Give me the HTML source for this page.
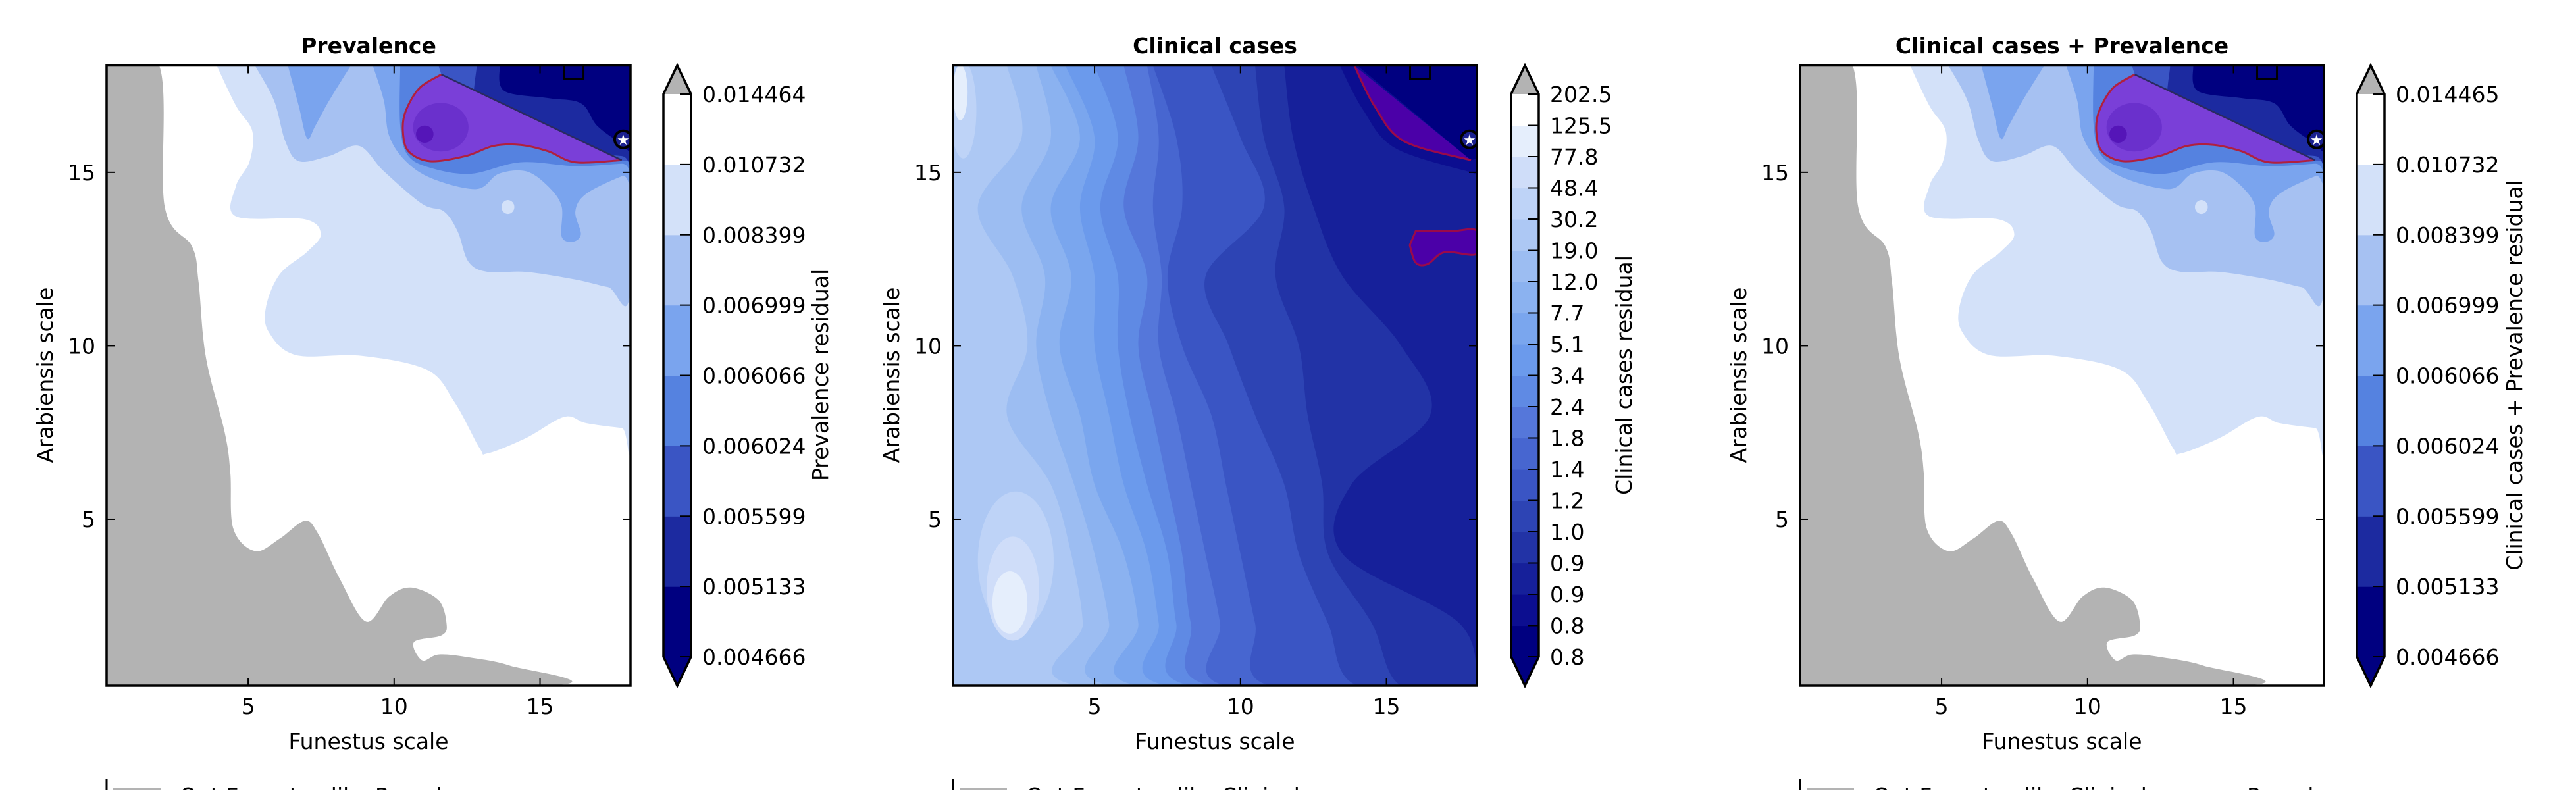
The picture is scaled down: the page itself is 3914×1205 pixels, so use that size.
<!DOCTYPE html>
<html><head><meta charset="utf-8">
<style>
html,body{margin:0;padding:0;background:#fff;}
body{width:3914px;height:1200px;overflow:hidden;}
svg text{font-family:"DejaVu Sans","Liberation Sans",sans-serif;}
</style></head>
<body>
<svg id="fig" xmlns="http://www.w3.org/2000/svg" width="3914" height="1200" viewBox="0 0 3914 1200"></svg>
<script>
// ---------- data ----------
const xRange = [0.15, 18.1];
const yRange = [0.2, 18.08];
const xTicks = [5, 10, 15];
const yTicks = [5, 10, 15];
const panelTitles = ["Prevalence", "Clinical cases", "Clinical cases + Prevalence"];
const cbarTitles = ["Prevalence residual", "Clinical cases residual", "Clinical cases + Prevalence residual"];
const legendLabels = ["Opt Funestus-like Prevalence", "Opt Funestus-like Clinical cases", "Opt Funestus-like Clinical cases + Prevalence"];
const prevTickLabels = ["0.014464","0.010732","0.008399","0.006999","0.006066","0.006024","0.005599","0.005133","0.004666"];
const combTickLabels = ["0.014465","0.010732","0.008399","0.006999","0.006066","0.006024","0.005599","0.005133","0.004666"];
const clinTickLabels = ["202.5","125.5","77.8","48.4","30.2","19.0","12.0","7.7","5.1","3.4","2.4","1.8","1.4","1.2","1.0","0.9","0.9","0.8","0.8"];
const prevColors = ["#000080","#1c2aa0","#3a55c4","#5582e0","#7aa4ee","#a6c1f2","#d3e1f9","#ffffff"];
const clinColors = ["#000080","#0c0e90","#16209a","#2233a6","#2d44b4","#3a55c4","#4766d0","#5577da","#5f8ae4","#6b9aec","#7aa6ee","#8bb2f0","#9cbdf2","#adc8f4","#bed3f7","#cfddf9","#e5eefc","#ffffff"];

// prevalence contour regions (data coords), drawn in order
const grayRegion = [[0.15,18.08],[1.95,18.08],[2.14,14.02],[3.08,12.86],[3.30,11.84],[3.55,9.67],[4.20,7.49],[4.39,6.33],[4.49,4.73],[5.24,4.08],[6.08,4.44],[6.93,4.95],[7.39,4.59],[8.14,3.28],[9.04,2.05],[9.83,2.77],[10.58,3.03],[11.52,2.67],[11.80,1.97],[11.62,1.65],[10.68,1.46],[10.96,0.93],[11.52,1.10],[12.46,1.03],[13.96,0.78],[15.27,0.2],[0.15,0.2]];
const prevLevel6 = [[3.92,18.08],[4.58,16.92],[5.14,16.19],[5.05,15.32],[4.58,14.60],[4.58,13.73],[6.92,13.65],[7.49,13.22],[7.02,12.71],[6.08,12.06],[5.61,11.11],[5.71,10.39],[6.64,9.73],[8.89,9.71],[11.14,9.30],[12.08,8.36],[12.93,7.05],[13.21,6.90],[14.52,7.34],[15.83,7.95],[16.58,7.77],[17.80,7.63],[18.1,7.63],[18.1,18.08]];
const prevLevel5 = [[5.23,18.08],[5.89,17.06],[6.27,15.90],[6.74,15.32],[7.77,15.47],[8.80,15.76],[9.65,15.03],[10.96,14.09],[11.71,13.87],[12.18,13.29],[12.55,12.42],[13.21,12.13],[14.52,12.13],[16.21,11.91],[17.33,11.69],[18.1,11.6],[18.1,18.08]];
const prevLevel4a = [[6.36,18.08],[6.73,16.92],[7.02,15.98],[7.30,16.34],[7.77,17.06],[8.52,18.08]];
const prevLevel4b = [[9.27,18.08],[9.65,17.06],[9.83,16.05],[10.40,15.32],[11.33,14.81],[12.83,14.52],[13.59,14.96],[14.52,15.03],[15.27,14.60],[15.74,14.02],[15.74,13.15],[16.12,13.00],[16.40,13.22],[16.21,13.87],[16.58,14.38],[17.80,14.89],[18.1,14.9],[18.1,18.08]];
const prevLevel3 = [[10.21,18.08],[10.21,16.34],[10.49,15.47],[11.33,15.11],[12.65,14.96],[14.33,15.29],[16.21,15.18],[17.80,15.25],[18.1,15.25],[18.1,18.08]];
const prevLevel2 = [[11.52,18.08],[11.62,17.82],[17.80,15.32],[18.1,15.32],[18.1,18.08]];
const prevLevel1 = [[12.83,18.08],[12.83,16.63],[14.33,16.05],[16.21,15.61],[17.80,15.47],[18.1,15.4],[18.1,18.08]];
const prevLevel0 = [[13.62,18.08],[13.77,17.35],[15.27,17.14],[16.40,16.99],[16.96,16.34],[17.80,15.83],[18.1,15.8],[18.1,18.08]];
const prevBlob = [[11.62,17.82],[10.87,17.43],[10.40,16.77],[10.30,16.19],[10.49,15.61],[11.24,15.32],[12.46,15.47],[13.40,15.76],[14.33,15.79],[15.27,15.61],[16.21,15.29],[17.80,15.35]];
const prevBlobCore = [11.6, 16.3, 0.95, 0.7];
const prevBlobDot = [11.05, 16.1, 0.3, 0.25];
const whiteSpot = [13.9, 14.0, 0.22, 0.2];

// clinical cases: boundaries x(y) — region right of boundary k has colour index <= k
const clinYs = [18.08, 16, 14, 12, 10, 8, 6, 4, 2, 0.2];
const clinBounds = {
  12:[2.0,2.5,1.0,2.2,2.7,2.0,3.5,4.2,4.6,4.5],
  11:[3.0,3.5,2.5,3.3,3.0,3.5,4.3,5.0,5.5,5.6],
  10:[3.5,4.5,3.5,4.2,3.8,4.5,5.0,6.0,6.5,6.5],
  9:[4.0,5.0,4.5,5.0,5.0,5.5,6.0,6.8,7.2,7.5],
  8:[5.0,5.8,5.2,5.8,5.8,6.2,6.8,7.5,7.8,8.3],
  7:[6.0,6.5,6.0,6.8,6.5,7.0,7.5,8.0,8.3,9.0],
  6:[6.8,7.2,7.0,7.3,7.2,7.8,8.3,8.8,9.3,9.5],
  5:[7.0,7.8,8.0,7.5,8.0,9.0,9.5,10.0,10.5,11.0],
  4:[9.0,10.0,10.8,8.8,9.6,10.5,11.5,12.0,13.0,14.0],
  3:[10.5,10.8,11.5,11.2,12.0,12.3,12.8,13.0,14.5,15.5],
  2:[11.5,11.8,12.5,13.5,15.5,16.5,13.8,13.5,17.5,18.1]
};
const clinLightBlobs = [[2.3,3.8,1.3,2.0,14],[2.2,3.0,0.9,1.5,15],[2.1,2.6,0.6,0.9,16],[0.5,16.8,0.45,1.4,14],[0.4,17.3,0.25,0.8,16]];
const clinNavy = [[14.0,18.08],[18.1,18.08],[18.1,15.4],[17.9,15.35]];
const clinDark1 = [[13.4,18.08],[14.2,16.8],[15.3,15.7],[17.9,15.0],[18.1,15.0],[18.1,18.08]];
const clinPurple = [[13.9,18.08],[14.6,16.9],[15.6,15.9],[17.9,15.35]];
const clinPill = [[16.0,13.3],[17.2,13.3],[18.1,13.32],[18.1,12.65],[17.0,12.7],[16.4,12.35],[16.0,12.4],[15.8,12.9]];

// markers
const squareMarker = [16.15, 18.0];
const circleMarker = [17.85, 15.95];

// ---------- layout ----------
const axLefts = [162, 1448, 2735];
const axW = 796, axTop = 99.5, axBot = 1042;
const cbLefts = [1008, 2296, 3581];
const cbW = 42, cbTop = 143, cbBot = 998;
const cbLabelX = [1258, 2479, 3832];
const NS = "http://www.w3.org/2000/svg";
const svg = document.getElementById('fig');

function mk(tag, attrs, parent){
  const e = document.createElementNS(NS, tag);
  for (const k in attrs) e.setAttribute(k, attrs[k]);
  (parent||svg).appendChild(e);
  return e;
}
function sx(p, v){ return axLefts[p] + (v - xRange[0])/(xRange[1]-xRange[0])*axW; }
function sy(v){ return axBot - (v - yRange[0])/(yRange[1]-yRange[0])*(axBot-axTop); }
function ptsStr(p, arr){ return arr.map(q => sx(p,q[0]).toFixed(1)+','+sy(q[1]).toFixed(1)).join(' '); }
function smoothPath(p, arr, closed){
  const P = arr.map(q => [sx(p,q[0]), sy(q[1])]);
  let d = 'M'+P[0][0].toFixed(1)+','+P[0][1].toFixed(1);
  for (let i=1;i<P.length;i++){
    const p0=P[Math.max(i-2,0)], p1=P[i-1], p2=P[i], p3=P[Math.min(i+1,P.length-1)];
    const c1=[p1[0]+(p2[0]-p0[0])/6, p1[1]+(p2[1]-p0[1])/6];
    const c2=[p2[0]-(p3[0]-p1[0])/6, p2[1]-(p3[1]-p1[1])/6];
    d += ' C'+c1[0].toFixed(1)+','+c1[1].toFixed(1)+' '+c2[0].toFixed(1)+','+c2[1].toFixed(1)+' '+p2[0].toFixed(1)+','+p2[1].toFixed(1);
  }
  if (closed) d += ' Z';
  return d;
}

const defs = mk('defs', {});
for (let p=0;p<3;p++){
  const cp = mk('clipPath', {id:'clip'+p}, defs);
  mk('rect', {x:axLefts[p], y:axTop, width:axW, height:axBot-axTop}, cp);
}

function region(g, p, arr, fill, name){
  const e = mk('path', {d: smoothPath(p, arr, true), fill: fill}, g);
  
  
  return e;
}
function ell(g, p, a, fill, name){
  const e = mk('ellipse', {cx:sx(p,a[0]), cy:sy(a[1]), rx:a[2]/(xRange[1]-xRange[0])*axW, ry:a[3]/(yRange[1]-yRange[0])*(axBot-axTop), fill:fill}, g);
  
  
}

function drawPrev(p, g){
  mk('rect', {x:axLefts[p], y:axTop, width:axW, height:axBot-axTop, fill:'#ffffff'}, g);
  region(g, p, prevLevel6, prevColors[6], 'contour-level-6');
  region(g, p, prevLevel5, prevColors[5], 'contour-level-5');
  ell(g, p, whiteSpot, prevColors[6], 'contour-spot');
  region(g, p, prevLevel4a, prevColors[4], 'contour-level-4');
  region(g, p, prevLevel4b, prevColors[4], 'contour-level-4');
  region(g, p, prevLevel3, prevColors[3], 'contour-level-3');
  const l2 = mk('polygon', {points: ptsStr(p, prevLevel2), fill: prevColors[2]}, g);
  
  
  region(g, p, prevLevel1, prevColors[1], 'contour-level-1');
  region(g, p, prevLevel0, prevColors[0], 'contour-level-0');
  const gr = mk('path', {d: smoothPath(p, grayRegion, true), fill:'#b3b3b3'}, g);
  
  
  const b = mk('path', {d: smoothPath(p, prevBlob, false)+' Z', fill:'#7a3fd8', stroke:'none'}, g);
  
  
  ell(g, p, prevBlobCore, '#6a30cc', 'optimal-core');
  ell(g, p, prevBlobDot, '#5515b8', 'optimal-peak');
  const o = mk('path', {d: smoothPath(p, prevBlob, false), fill:'none', stroke:'#b0203e', 'stroke-width':3}, g);
  
  
  const dl = mk('line', {x1:sx(p,prevBlob[0][0]), y1:sy(prevBlob[0][1]), x2:sx(p,prevBlob[prevBlob.length-1][0]), y2:sy(prevBlob[prevBlob.length-1][1]), stroke:'#2a2a60', 'stroke-width':2.5}, g);
  
  
}

function drawClin(p, g){
  mk('rect', {x:axLefts[p], y:axTop, width:axW, height:axBot-axTop, fill:clinColors[13]}, g);
  ell(g, p, clinLightBlobs[3], clinColors[14], 'contour-light-blob');
  ell(g, p, clinLightBlobs[4], clinColors[16], 'contour-light-blob');
  for (let k=12;k>=2;k--){
    const arr = clinYs.map((yv,i)=>[clinBounds[k][i], yv]);
    arr.push([18.1, yRange[0]]); arr.push([18.1, yRange[1]]);
    region(g, p, arr, clinColors[k], 'contour-level-'+k);
  }
  for (let i=0;i<3;i++) ell(g, p, clinLightBlobs[i], clinColors[clinLightBlobs[i][4]], 'contour-light-blob');
  region(g, p, clinDark1, clinColors[1], 'contour-level-1');
  const nv = mk('polygon', {points: ptsStr(p, clinNavy), fill: clinColors[0]}, g);
  
  
  const pu = mk('path', {d: smoothPath(p, clinPurple, false)+' Z', fill:'#4b00a8'}, g);
  
  
  const po = mk('path', {d: smoothPath(p, clinPurple, false), fill:'none', stroke:'#9a0a4a', 'stroke-width':3}, g);
  
  
  const pl = mk('path', {d: smoothPath(p, clinPill, true), fill:'#4b00a8', stroke:'#9a0a4a', 'stroke-width':3}, g);
  
  
}

for (let p=0;p<3;p++){
  const g = mk('g', {'clip-path':'url(#clip'+p+')'});
  
  
  if (p===1) drawClin(p, g); else drawPrev(p, g);
  const sq = mk('rect', {x:sx(p,squareMarker[0])-15, y:sy(squareMarker[1])-8, width:30, height:24, fill:'none', stroke:'#000', 'stroke-width':3}, g);
  
  
  const cm = mk('circle', {cx:sx(p,circleMarker[0]), cy:sy(circleMarker[1]), r:13, fill:'#1a2090', stroke:'#000', 'stroke-width':4});
  
  
  g.appendChild(cm);
  const st = mk('text', {x:sx(p,circleMarker[0]), y:sy(circleMarker[1])+8, 'font-size':22, fill:'#fff', 'text-anchor':'middle'});
  st.textContent = '★';
  
  
  g.appendChild(st);

  const fr = mk('rect', {x:axLefts[p], y:axTop, width:axW, height:axBot-axTop, fill:'none', stroke:'#000', 'stroke-width':3.5});
  
  
  xTicks.forEach(t=>{
    const x = sx(p,t);
    mk('line', {x1:x, y1:axBot, x2:x, y2:axBot-12, stroke:'#000', 'stroke-width':2});
    mk('line', {x1:x, y1:axTop, x2:x, y2:axTop+12, stroke:'#000', 'stroke-width':2});
    const tl = mk('text', {x:x, y:1085, 'font-size':33, 'text-anchor':'middle'});
    tl.textContent = t;
    
    
  });
  yTicks.forEach(t=>{
    const y = sy(t);
    mk('line', {x1:axLefts[p], y1:y, x2:axLefts[p]+12, y2:y, stroke:'#000', 'stroke-width':2});
    mk('line', {x1:axLefts[p]+axW, y1:y, x2:axLefts[p]+axW-12, y2:y, stroke:'#000', 'stroke-width':2});
    const tl = mk('text', {x:axLefts[p]-17, y:y+12, 'font-size':33, 'text-anchor':'end'});
    tl.textContent = t;
    
    
  });
  const cx = axLefts[p]+axW/2;
  const tt = mk('text', {x:cx, y:81, 'font-size':33, 'font-weight':'bold', 'text-anchor':'middle'});
  tt.textContent = panelTitles[p];
  
  
  const xl = mk('text', {x:cx, y:1138, 'font-size':33, 'text-anchor':'middle'});
  xl.textContent = 'Funestus scale';
  
  
  const ylx = axLefts[p]-82, yly = 570;
  const yl = mk('text', {x:ylx, y:yly, 'font-size':33, 'text-anchor':'middle', transform:'rotate(-90 '+ylx+' '+yly+')'});
  yl.textContent = 'Arabiensis scale';
  
  

  const cols = p===1 ? clinColors : prevColors;
  const labs = p===1 ? clinTickLabels : (p===0 ? prevTickLabels : combTickLabels);
  const n = cols.length, L = cbLefts[p], bh = (cbBot-cbTop)/n;
  const cg = mk('g', {});
  
  
  cols.forEach((c,i)=>{
    const r = mk('rect', {x:L, y:cbBot-(i+1)*bh, width:cbW, height:bh+0.6, fill:c}, cg);
    
    
  });
  mk('polygon', {points:`${L},${cbTop} ${L+cbW/2},${axTop} ${L+cbW},${cbTop}`, fill:'#b3b3b3'}, cg);
  mk('polygon', {points:`${L},${cbBot} ${L+cbW/2},${axBot} ${L+cbW},${cbBot}`, fill:cols[0]}, cg);
  mk('polygon', {points:`${L},${cbTop} ${L+cbW/2},${axTop} ${L+cbW},${cbTop} ${L+cbW},${cbBot} ${L+cbW/2},${axBot} ${L},${cbBot}`, fill:'none', stroke:'#000', 'stroke-width':3.5}, cg);
  labs.forEach((s,i)=>{
    const y = cbTop + i*(cbBot-cbTop)/(labs.length-1);
    mk('line', {x1:L+cbW-17, y1:y, x2:L+cbW, y2:y, stroke:'#000', 'stroke-width':2}, cg);
    const t = mk('text', {x:L+cbW+17, y:y+12, 'font-size':33}, cg);
    t.textContent = s;
    
    
  });
  const clx = cbLabelX[p];
  const cl = mk('text', {x:clx, y:570, 'font-size':33, 'text-anchor':'middle', transform:'rotate(-90 '+clx+' 570)'});
  cl.textContent = cbarTitles[p];
  
  

  const lg = mk('g', {});
  
  
  mk('line', {x1:axLefts[p], y1:1183, x2:axLefts[p], y2:1200, stroke:'#000', 'stroke-width':3}, lg);
  mk('rect', {x:axLefts[p]+10, y:1198, width:72, height:10, fill:'#b3b3b3'}, lg);
  const lt = mk('text', {x:axLefts[p]+111, y:1221, 'font-size':33}, lg);
  lt.textContent = legendLabels[p];
}
</script>
</body></html>
